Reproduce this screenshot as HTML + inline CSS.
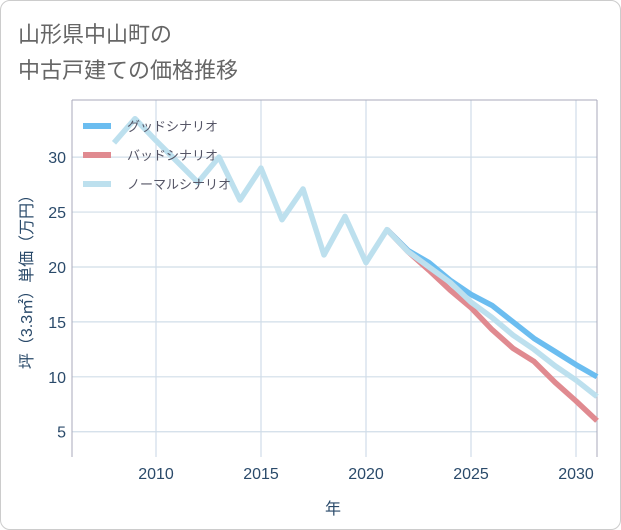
<!DOCTYPE html>
<html><head><meta charset="utf-8"><style>
body{margin:0;background:#fff;font-family:"Liberation Sans","Noto Sans CJK JP",sans-serif;}
#card{position:absolute;left:0;top:0;width:619px;height:528px;border:1px solid #ccc;border-radius:10px;background:#fff;}
</style></head><body>
<div id="card"></div>
<svg id="chart" width="621" height="530" style="position:absolute;left:0;top:0">
<text x="18" y="42" font-size="22" fill="#666">山形県中山町の</text>
<text x="18" y="78" font-size="22" fill="#666">中古戸建ての価格推移</text>
<g id="grid"></g><g id="series"></g><g id="legend"></g>
<text x="333" y="514" font-size="16" fill="#2a4a6a" text-anchor="middle">年</text>
<text transform="translate(32,278) rotate(-90)" font-size="16" fill="#2a4a6a" text-anchor="middle">坪（3.3㎡）単価（万円）</text>
</svg>
<script>
const years=[2008,2009,2010,2011,2012,2013,2014,2015,2016,2017,2018,2019,2020,2021,2022,2023,2024,2025,2026,2027,2028,2029,2030,2031];
const normal=[31.3,33.5,31.5,29.6,27.7,30.0,26.1,29.0,24.3,27.1,21.1,24.6,20.4,23.4,21.4,20.0,18.6,16.8,15.4,13.8,12.5,11.0,9.7,8.2];
const futureYears=[2021,2022,2023,2024,2025,2026,2027,2028,2029,2030,2031];
const good=[23.4,21.5,20.4,18.8,17.5,16.5,15.0,13.5,12.3,11.1,10.0];
const bad=[23.4,21.4,19.7,17.9,16.3,14.3,12.6,11.4,9.5,7.8,6.0];
const xTicks=[2010,2015,2020,2025,2030];
const yTicks=[5,10,15,20,25,30];
const X0=72,X1=597,Y0=100,Y1=457,xmin=2006,xmax=2031,ymin=2.7,ymax=35.2;
const xs=v=>X0+(v-xmin)/(xmax-xmin)*(X1-X0);
const ys=v=>Y1-(v-ymin)/(ymax-ymin)*(Y1-Y0);
const NS="http://www.w3.org/2000/svg";
function mk(tag,attrs,parent){const e=document.createElementNS(NS,tag);for(const k in attrs)e.setAttribute(k,attrs[k]);parent.appendChild(e);return e;}
const grid=document.getElementById('grid');
for(const t of xTicks){
 const l=mk('line',{x1:xs(t),x2:xs(t),y1:Y0,y2:Y1,stroke:'#d0dde8','stroke-width':1.2},grid);
 
 
 const tx=mk('text',{x:xs(t),y:479,'font-size':16,fill:'#2a4a6a','text-anchor':'middle'},grid);tx.textContent=t;
 
 
}
for(const t of yTicks){
 const l=mk('line',{x1:X0,x2:X1,y1:ys(t),y2:ys(t),stroke:'#d0dde8','stroke-width':1.2},grid);
 
 
 const tx=mk('text',{x:X0-6,y:ys(t)+6,'font-size':16,fill:'#2a4a6a','text-anchor':'end'},grid);tx.textContent=t;
 
 
}
const ax=mk('line',{x1:X0,x2:X0,y1:Y0,y2:Y1,stroke:'#aab','stroke-width':1},grid);


const ax2=mk('line',{x1:X1,x2:X1,y1:Y0,y2:Y1,stroke:'#aab','stroke-width':1},grid);


const ax3=mk('line',{x1:X0,x2:X1,y1:Y0,y2:Y0,stroke:'#aab','stroke-width':1},grid);


const ser=document.getElementById('series');
function path(xv,yv,color,name){
 const d=xv.map((x,i)=>(i?'L':'M')+xs(x).toFixed(1)+','+ys(yv[i]).toFixed(1)).join('');
 const p=mk('path',{d:d,fill:'none',stroke:color,'stroke-width':5.5,'stroke-linejoin':'round'},ser);
 
 
}
path(futureYears,good,'#6bbdf0','good-scenario-line');
path(futureYears,bad,'#e08a90','bad-scenario-line');
path(years,normal,'#bde0ee','normal-scenario-line');
const lg=document.getElementById('legend');
const items=[['グッドシナリオ','#6bbdf0'],['バッドシナリオ','#e08a90'],['ノーマルシナリオ','#bde0ee']];
items.forEach((it,i)=>{
 const y=126+i*29;
 const l=mk('line',{x1:83,x2:111,y1:y,y2:y,stroke:it[1],'stroke-width':6},lg);
 
 
 const t=mk('text',{x:127,y:y+5,'font-size':13,fill:'#556'},lg);t.textContent=it[0];
 
 
});
</script>
</body></html>
